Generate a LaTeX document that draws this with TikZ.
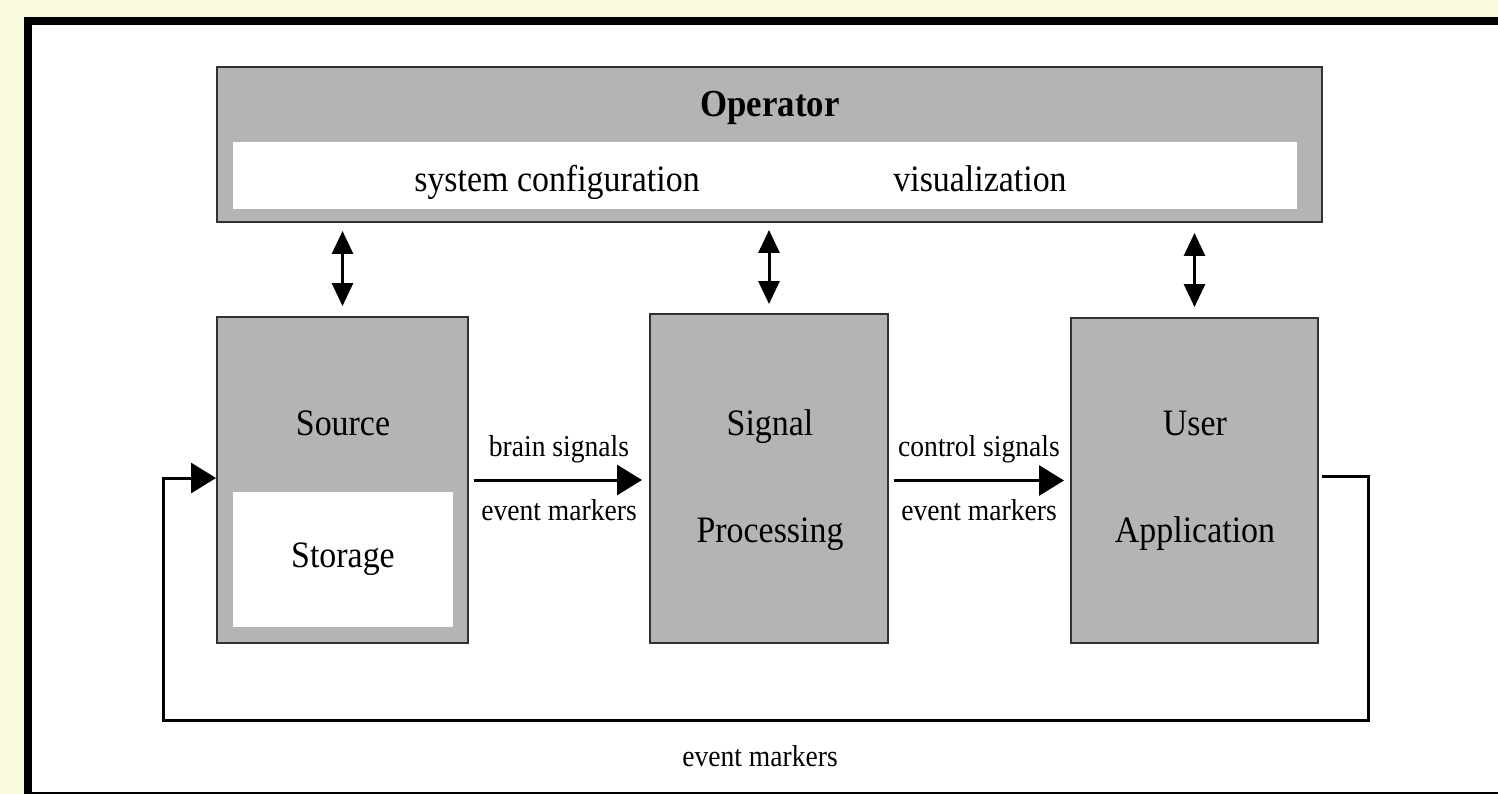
\documentclass[tikz,border=0pt]{standalone}
\usepackage{fontspec}
\setmainfont{Liberation Serif}
\usetikzlibrary{arrows.meta}
\definecolor{cream}{RGB}{249,249,221}
\definecolor{boxgray}{RGB}{180,180,180}
\definecolor{edgegray}{RGB}{50,50,50}
\newcommand{\tallt}[1]{\scalebox{1}[1.1]{#1}}
\begin{document}
\begin{tikzpicture}[x=0.02cm,y=-0.02cm,
  block/.style={draw=edgegray,fill=boxgray,line width=0.04cm,inner sep=0pt},
  whitebox/.style={fill=white,draw=none,inner sep=0pt},
  bigtxt/.style={font=\fontsize{19.3}{22}\selectfont,inner sep=0pt,text height=0.75em,text depth=0.22em},
  smalltxt/.style={font=\fontsize{15.7}{18}\selectfont,inner sep=0pt,text height=0.75em,text depth=0.22em},
  link/.style={line width=0.06cm},
  dbl/.style={link,{Triangle[length=0.46cm,width=0.42cm]}-{Triangle[length=0.46cm,width=0.42cm]}},
  fwd/.style={link,-{Triangle[length=0.5cm,width=0.6cm]}}]
\useasboundingbox (0,0) rectangle (1498,794);
\fill[cream] (0,0) rectangle (1498,794);
\begin{scope}
\clip (0,0) rectangle (1498,794);
\fill[black] (24,17) rectangle (1520,794);
\fill[white] (32,25) rectangle (1520,792);
\end{scope}
% operator
\node[block,minimum width=22.1cm,minimum height=3.1cm] (op) at (769.5,144.5) {};
\node[whitebox,minimum width=21.28cm,minimum height=1.34cm] (opin) at (765,175.5) {};
\node[bigtxt,font=\fontsize{19.8}{22}\selectfont\bfseries] (optitle) at (770,112) {\tallt{Operator}};
\node[bigtxt] (sysconf) at (557,187) {\tallt{system configuration}};
\node[bigtxt] (vis) at (980,187) {\tallt{visualization}};
% source
\node[block,minimum width=5.02cm,minimum height=6.52cm] (src) at (342.5,480) {};
\node[whitebox,minimum width=4.4cm,minimum height=2.7cm] (stor) at (343,559.5) {};
\node[bigtxt] (srct) at (343,431) {\tallt{Source}};
\node[bigtxt] (stort) at (343,563) {\tallt{Storage}};
% signal processing
\node[block,minimum width=4.76cm,minimum height=6.58cm] (sp) at (769,478.5) {};
\node[bigtxt] (spt1) at (770,431) {\tallt{Signal}};
\node[bigtxt] (spt2) at (770,538) {\tallt{Processing}};
% user application
\node[block,minimum width=4.94cm,minimum height=6.5cm] (ua) at (1194.5,480.5) {};
\node[bigtxt] (uat1) at (1195,431) {\tallt{User}};
\node[bigtxt] (uat2) at (1195,538) {\tallt{Application}};
% double arrows
\draw[dbl,shorten <=0.16cm,shorten >=0.2cm] (op.south -| src.north) -- (src.north);
\draw[dbl,shorten <=0.14cm,shorten >=0.18cm] (op.south -| sp.north) -- (sp.north);
\draw[dbl,shorten <=0.2cm,shorten >=0.2cm] (op.south -| ua.north) -- (ua.north);
% forward arrows
\draw[fwd,shorten <=0.1cm,shorten >=0.14cm] (src.east) -- (src.east -| sp.west);
\draw[fwd,shorten <=0.1cm,shorten >=0.12cm] (sp.east |- ua.east) -- (ua.west);
\node[smalltxt] (bs) at (559,452) {\tallt{brain signals}};
\node[smalltxt] (em1) at (559,516) {\tallt{event markers}};
\node[smalltxt] (cs) at (979,452) {\tallt{control signals}};
\node[smalltxt] (em2) at (979,516) {\tallt{event markers}};
% feedback
\coordinate (fbstart) at (1323,476);
\coordinate (fbr) at (1368,476);
\coordinate (fbrb) at (1368,720);
\coordinate (fblb) at (163,720);
\coordinate (fbl) at (163,478);
\draw[fwd,line cap=rect] (fbstart) -- (fbr) -- (fbrb) -- (fblb) -- (fbl) -- (fbl -| src.west) ;
\node[smalltxt] (em3) at (760,762) {\tallt{event markers}};
\end{tikzpicture}
\end{document}
